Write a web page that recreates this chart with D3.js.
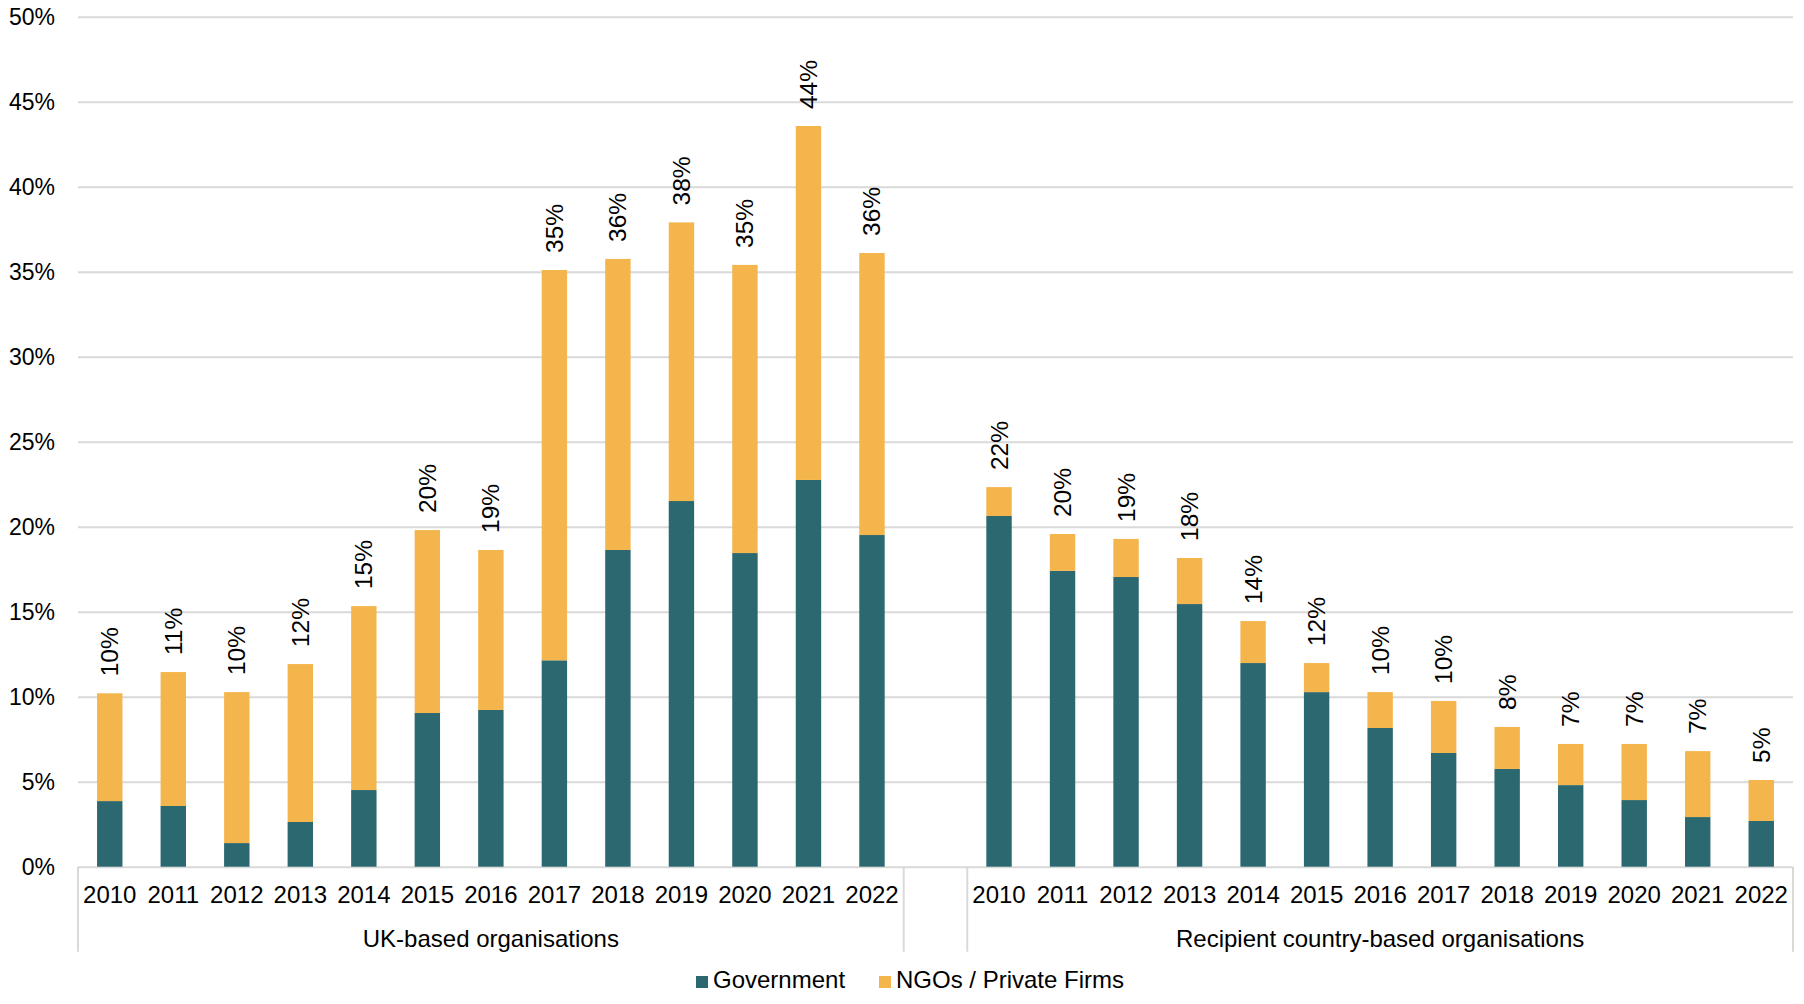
<!DOCTYPE html>
<html>

<head>
    <meta charset="UTF-8" />
    <script src="https://d3js.org/d3.v7.min.js"></script>
    <style>
        body { margin: 0; background: #fff; }
        text { font-family: "Liberation Sans", Arial, sans-serif; fill: #000; }
    </style>
</head>

<body>
    <script>
        // values, in percent
        const years = ["2010", "2011", "2012", "2013", "2014", "2015", "2016", "2017", "2018", "2019", "2020", "2021", "2022"];
        const groups = ["UK-based organisations", "Recipient country-based organisations"];
        const series = ["Government", "NGOs / Private Firms"];
        const colors = ["#2C6870", "#F4B54D"];

        const ukGov = [3.86, 3.57, 1.39, 2.63, 4.51, 9.04, 9.22, 12.14, 18.63, 21.51, 18.45, 22.75, 19.51];
        const ukNgo = [6.34, 7.88, 8.88, 9.29, 10.82, 10.76, 9.41, 22.96, 17.12, 16.39, 16.95, 20.82, 16.59];
        const recGov = [20.63, 17.4, 17.04, 15.45, 11.98, 10.27, 8.16, 6.69, 5.75, 4.8, 3.92, 2.92, 2.69];
        const recNgo = [1.70, 2.17, 2.24, 2.71, 2.47, 1.71, 2.11, 3.06, 2.47, 2.42, 3.30, 3.88, 2.41];

        const yTicks = [0, 5, 10, 15, 20, 25, 30, 35, 40, 45, 50];

        let width = 1804;
        let height = 1004;
        margin = ({ top: 16.7, right: 11, bottom: 137.3, left: 78 })

        let data = [];
        years.forEach(function (y, i) {
            data.push({ key: "uk" + y, group: 0, year: y, gov: ukGov[i], ngo: ukNgo[i] });
        });
        let gap = "gap";
        years.forEach(function (y, i) {
            data.push({ key: "rec" + y, group: 1, year: y, gov: recGov[i], ngo: recNgo[i] });
        });
        let keys = data.slice(0, 13).map(d => d.key).concat([gap], data.slice(13).map(d => d.key));

        let svg = d3.select("body")
            .append("svg")
            .attr("width", width)
            .attr("height", height)

        let x = d3.scaleBand()
            .domain(keys)
            .range([margin.left, width - margin.right])
            .paddingInner(0.6)
            .paddingOuter(0.3)

        let step = x.step();
        let slotLeft = function (k) { return x(k) - step * 0.3; };

        let y = d3.scaleLinear()
            .domain([0, 50])
            .range([height - margin.bottom, margin.top])

        // grid + y labels
        let yAxis = svg.append("g")
            .attr("transform", `translate(${margin.left},0)`)
            .call(d3.axisLeft(y)
                .tickValues(yTicks)
                .tickFormat(d => d + "%")
                .tickSize(-(width - margin.left - margin.right))
                .tickPadding(23))
        yAxis.select(".domain").remove();
        yAxis.selectAll("line").attr("stroke", "#d9d9d9").attr("stroke-width", 2);
        yAxis.selectAll("text").attr("font-size", 23).style("font-family", '"Liberation Sans", Arial, sans-serif');

        let stack = d3.stack().keys(["gov", "ngo"]);
        let stacked = stack(data);

        svg.selectAll(".layer")
            .data(stacked)
            .join("g")
            .attr("class", "layer")
            .attr("fill", (d, i) => colors[i])
            .selectAll("rect")
            .data(d => d)
            .join("rect")
            .attr("x", d => x(d.data.key))
            .attr("width", x.bandwidth())
            .attr("y", d => y(d[1]))
            .attr("height", d => y(d[0]) - y(d[1]));

        // rotated total labels
        svg.selectAll(".total")
            .data(data)
            .join("text")
            .attr("class", "total")
            .attr("transform", d => `translate(${x(d.key) + x.bandwidth() / 2 + 8.5},${y(d.gov + d.ngo) - 17}) rotate(-90)`)
            .attr("font-size", 24.5)
            .text(d => Math.round(d.gov + d.ngo) + "%");

        // category axis
        let base = y(0);
        svg.selectAll(".year")
            .data(data)
            .join("text")
            .attr("class", "year")
            .attr("x", d => x(d.key) + x.bandwidth() / 2)
            .attr("y", base + 36)
            .attr("text-anchor", "middle")
            .attr("font-size", 24)
            .text(d => d.year);

        let groupBounds = [
            [slotLeft(keys[0]), slotLeft(gap)],
            [slotLeft(gap) + step, width - margin.right]
        ];
        svg.selectAll(".group")
            .data(groups)
            .join("text")
            .attr("class", "group")
            .attr("x", (d, i) => (groupBounds[i][0] + groupBounds[i][1]) / 2)
            .attr("y", base + 80)
            .attr("text-anchor", "middle")
            .attr("font-size", 24)
            .text(d => d);

        let seps = [groupBounds[0][0], groupBounds[0][1], groupBounds[1][0], groupBounds[1][1]];
        svg.selectAll(".sep")
            .data(seps)
            .join("line")
            .attr("class", "sep")
            .attr("x1", d => d).attr("x2", d => d)
            .attr("y1", base).attr("y2", base + 85)
            .attr("stroke", "#d9d9d9")
            .attr("stroke-width", 2);

        // legend
        let legendX = [696, 879];
        let legend = svg.selectAll(".legend")
            .data(series)
            .join("g")
            .attr("class", "legend")
            .attr("transform", (d, i) => `translate(${legendX[i]},976)`);
        legend.append("rect")
            .attr("width", 12)
            .attr("height", 12)
            .attr("fill", (d, i) => colors[i]);
        legend.append("text")
            .attr("x", 17)
            .attr("y", 12)
            .attr("font-size", 24)
            .text(d => d);
    </script>
</body>

</html>
